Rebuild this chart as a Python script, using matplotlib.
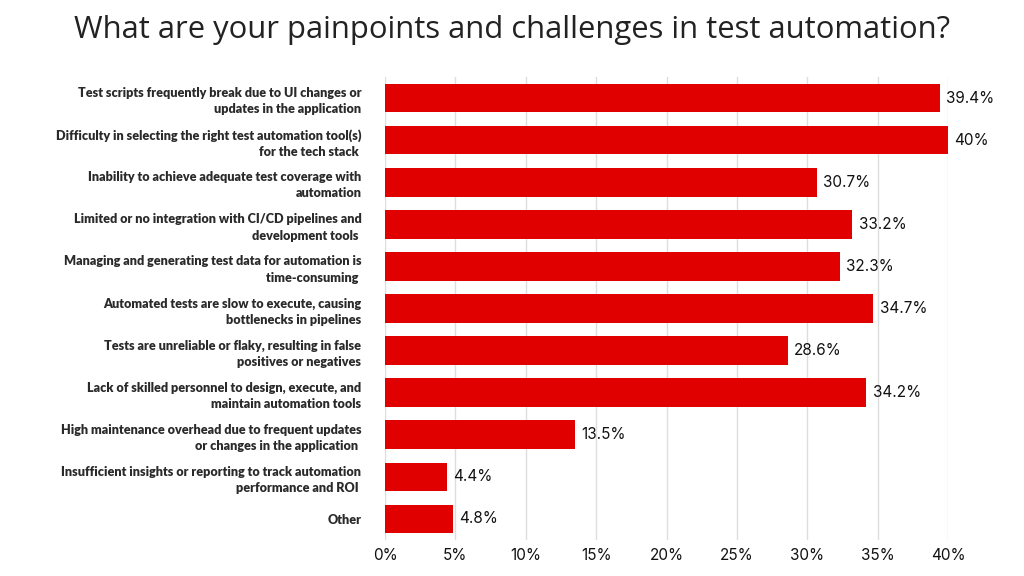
import matplotlib
matplotlib.use("Agg")
import matplotlib.pyplot as plt

# Survey answers, top to bottom
labels = [
    "Test scripts frequently break due to UI changes or\nupdates in the application",
    "Difficulty in selecting the right test automation tool(s)\nfor the tech stack ",
    "Inability to achieve adequate test coverage with\nautomation",
    "Limited or no integration with CI/CD pipelines and\ndevelopment tools ",
    "Managing and generating test data for automation is\ntime-consuming ",
    "Automated tests are slow to execute, causing\nbottlenecks in pipelines",
    "Tests are unreliable or flaky, resulting in false\npositives or negatives",
    "Lack of skilled personnel to design, execute, and\nmaintain automation tools",
    "High maintenance overhead due to frequent updates\nor changes in the application ",
    "Insufficient insights or reporting to track automation\nperformance and ROI ",
    "Other",
]
values = [39.4, 40, 30.7, 33.2, 32.3, 34.7, 28.6, 34.2, 13.5, 4.4, 4.8]
value_text = ["39.4%", "40%", "30.7%", "33.2%", "32.3%", "34.7%", "28.6%", "34.2%", "13.5%", "4.4%", "4.8%"]
xticks = [0, 5, 10, 15, 20, 25, 30, 35, 40]

RED = "#e00000"

fig = plt.figure(figsize=(10.24, 5.76), dpi=100)
ax = fig.add_axes([385 / 1024, 1 - 540 / 576, (948 - 385) / 1024, (540 - 77) / 576])

pos = list(range(len(values)))
ax.barh(pos, values, height=0.68, color=RED, zorder=2)
ax.set_ylim(10.5, -0.5)
ax.set_xlim(0, 40)

for p, v, t in zip(pos, values, value_text):
    ax.text(v + 0.45, p, t, va="center", ha="left", fontsize=11,
            family="Inter", color="#111111", clip_on=False)

ax.set_yticks(pos)
ax.set_yticklabels(labels, fontsize=9.05, family="Lato", fontweight="heavy",
                   color="#2a2a2a", linespacing=1.42)
ax.tick_params(axis="y", length=0, pad=17)
ax.set_xticks(xticks)
ax.set_xticklabels([f"{x}%" for x in xticks], fontsize=11, family="Inter", color="#111111")
ax.tick_params(axis="x", length=0, pad=6)

ax.grid(axis="x", color="#dddddd", linewidth=1, zorder=0)
for s in ax.spines.values():
    s.set_visible(False)

fig.text(0.5, 0.948, "What are your painpoints and challenges in test automation?",
         ha="center", va="center", fontsize=22.3, family="Open Sans", color="#222222")

fig.savefig("out.png", dpi=100)
